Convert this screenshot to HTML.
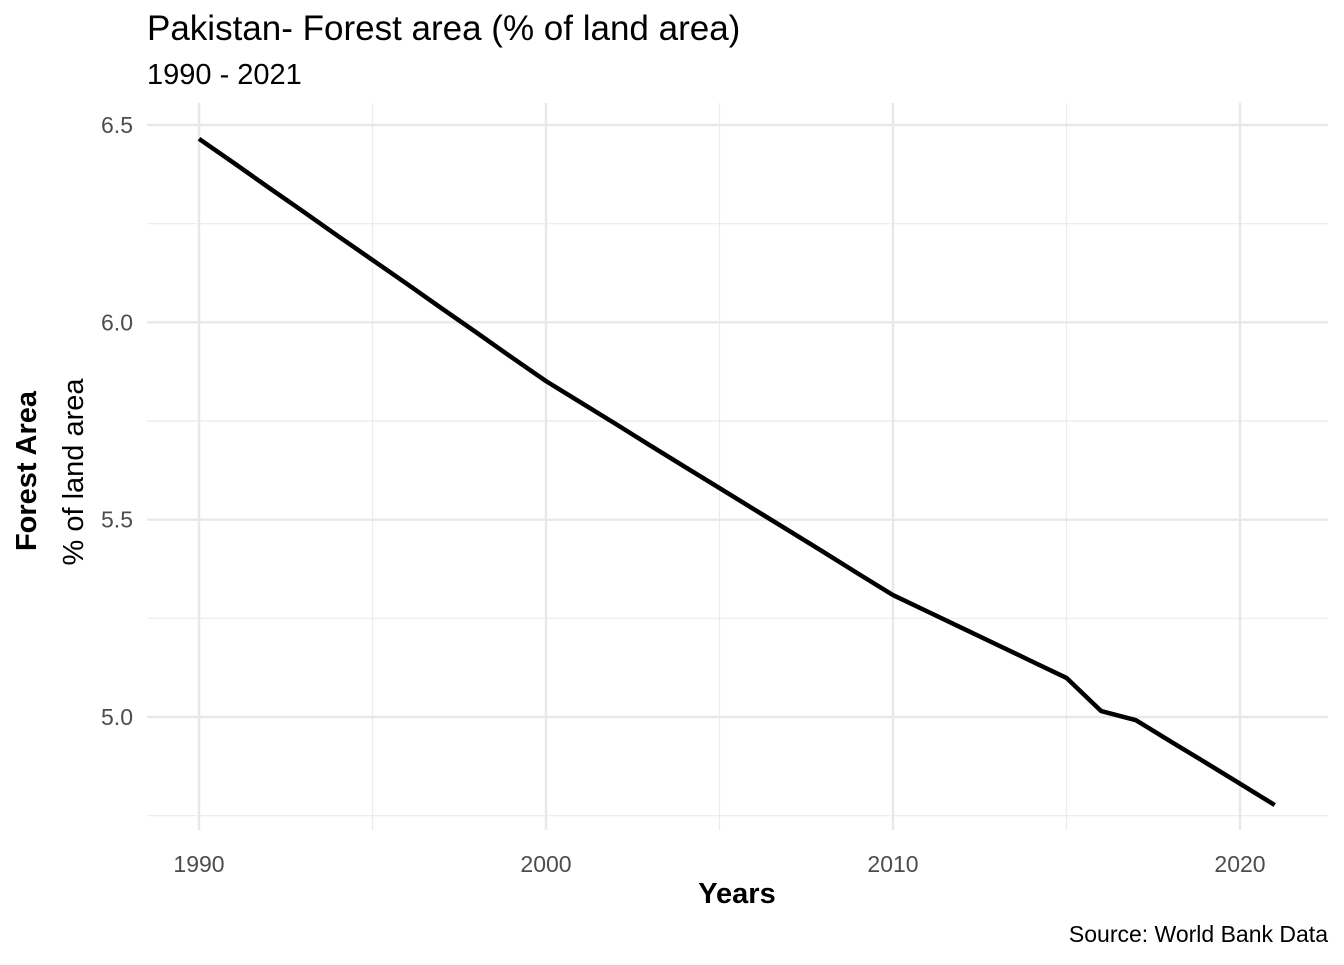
<!DOCTYPE html>
<html><head><meta charset="utf-8"><style>
body{margin:0;background:#fff;font-family:"Liberation Sans",Arial,sans-serif;}
svg text{font-family:"Liberation Sans",Arial,sans-serif;}
</style></head><body>
<svg id="chart" width="1344" height="960">
<rect width="1344" height="960" fill="#fff"/>
<text x="147" y="40" font-size="35" fill="#000">Pakistan- Forest area (% of land area)</text>
<text x="147" y="84" font-size="29" fill="#000">1990 - 2021</text>
<g id="grid"></g>
<g id="ticks"></g>
<path id="line" fill="none" stroke="#000" stroke-width="4.5" stroke-linejoin="round"/>
<text x="737" y="903" font-size="29" font-weight="bold" text-anchor="middle">Years</text>
<text transform="translate(36,471) rotate(-90)" font-size="29" font-weight="bold" text-anchor="middle">Forest Area</text>
<text transform="translate(83,472) rotate(-90)" font-size="29" text-anchor="middle">% of land area</text>
<text x="1328" y="942" font-size="23" text-anchor="end">Source: World Bank Data</text>
</svg>
<script>
const years=[1990,1991,1992,1993,1994,1995,1996,1997,1998,1999,2000,2001,2002,2003,2004,2005,2006,2007,2008,2009,2010,2011,2012,2013,2014,2015,2016,2017,2018,2019,2020,2021];
const values=[6.465,6.404,6.342,6.281,6.219,6.158,6.097,6.035,5.974,5.912,5.851,5.797,5.743,5.688,5.634,5.580,5.526,5.472,5.418,5.363,5.309,5.267,5.225,5.183,5.141,5.099,5.015,4.992,4.938,4.885,4.831,4.777];
const xTicks=[1990,2000,2010,2020];
const xMinor=[1995,2005,2015];
const yTicks=[5.0,5.5,6.0,6.5];
const yMinor=[4.75,5.25,5.75,6.25];
const yLabels=["5.0","5.5","6.0","6.5"];
const NS="http://www.w3.org/2000/svg";
const px0=147,px1=1328,py0=103,py1=830;
const xs=v=>199+(v-1990)*(1240-199)/30;
const ys=v=>717-(v-5.0)*(717-125)/1.5;
const grid=document.getElementById('grid'),ticks=document.getElementById('ticks');
function ln(x1,y1,x2,y2,w,c,name){const l=document.createElementNS(NS,'line');
l.setAttribute('x1',x1);l.setAttribute('y1',y1);l.setAttribute('x2',x2);l.setAttribute('y2',y2);
l.setAttribute('stroke',c);l.setAttribute('stroke-width',w);


grid.appendChild(l);}
yMinor.forEach(v=>ln(px0,ys(v),px1,ys(v),1.2,'#ebebeb','y-minor-gridline'));
xMinor.forEach(v=>ln(xs(v),py0,xs(v),py1,1.2,'#ebebeb','x-minor-gridline'));
yTicks.forEach(v=>ln(px0,ys(v),px1,ys(v),2.4,'#e8e8e8','y-major-gridline'));
xTicks.forEach(v=>ln(xs(v),py0,xs(v),py1,2.4,'#e8e8e8','x-major-gridline'));
function tx(x,y,s,anchor,name){const t=document.createElementNS(NS,'text');
t.setAttribute('x',x);t.setAttribute('y',y);t.setAttribute('font-size','23');t.setAttribute('fill','#4d4d4d');
t.setAttribute('text-anchor',anchor);t.textContent=s;


ticks.appendChild(t);}
xTicks.forEach(v=>tx(xs(v),872,String(v),'middle','x-tick-label'));
yTicks.forEach((v,i)=>tx(133,ys(v)+8,yLabels[i],'end','y-tick-label'));
document.getElementById('line').setAttribute('d',years.map((y,i)=>(i?'L':'M')+xs(y)+','+ys(values[i])).join(' '));
</script>
</body></html>
